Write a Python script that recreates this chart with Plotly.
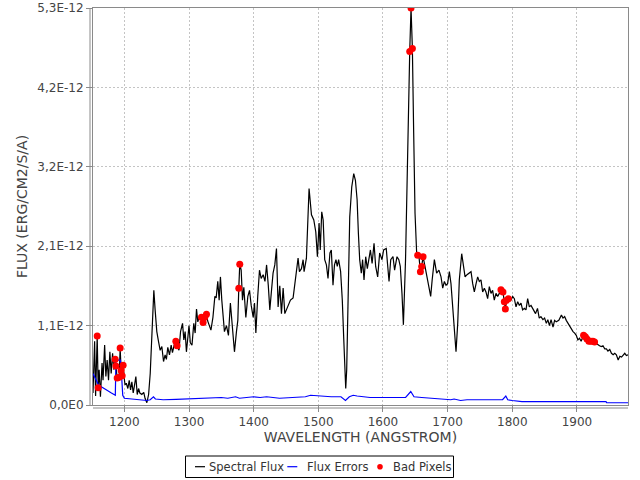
import plotly.graph_objects as go

# Spectral flux (units of 1e-12 erg/cm2/s/A)
flux_wl = [1151.5,1154,1155.5,1158,1159.5,1161,1163,1165.5,1167,1169.5,1171.4,1173.4,1175.5,1177.6,1179.6,1181.8,1183.8,
 1185.8,1186.9,1188.9,1190.5,1192,1193.5,1195,1196.6,1198.1,1199.5,1201,1203,1205.4,1207.5,1209.6,1211.6,1213.7,1215.8,
 1217.8,1219.9,1222,1224,1227,1230,1232,1234.8,1237.5,1240,1242.5,1245.6,1247.6,1250.2,1252.8,1255.4,1258,1260.6,1263,
 1265,1267.2,1269.8,1272.4,1274.4,1277.6,1279.6,1281.6,1284.5,1286.9,1290,1292,1294,1296,1298,1300,1302,1304.6,1307.4,
 1309.5,1311.6,1313.6,1315.7,1319.3,1321.8,1324.4,1327,1329,1331.3,1333.9,1337,1340,1342,1344.5,1346.6,1348.6,1350.7,
 1352.7,1354.8,1357.9,1361,1364,1367.2,1370.3,1373.4,1375.5,1377,1378.5,1380.7,1382.7,1384.8,1387.9,1391,1393.6,1396.2,
 1399.3,1401.3,1403.4,1406.3,1409,1411.6,1414.7,1417.5,1420,1422.6,1425,1427.6,1430,1432.7,1435.3,1437.8,1440.4,1443,
 1445.6,1448.2,1450.7,1453.3,1456.9,1461,1464.6,1468.7,1470.8,1473.9,1476.5,1478,1481.6,1485.7,1489.4,1493,1496.1,
 1498.6,1501.2,1503,1505.3,1507.5,1509.9,1512.5,1515,1518,1520.1,1522.7,1525,1527.3,1529.3,1531.4,1534.5,1537.1,1539.2,
 1540.8,1542.4,1543.9,1546,1548.6,1551.7,1554.8,1557.4,1560,1562,1564,1566.5,1568.5,1570.7,1573.3,1575.8,1578,1580.6,
 1583.2,1586.2,1588.7,1591.8,1594.9,1598.5,1601,1605.1,1607,1609.4,1612,1615.5,1618,1621.7,1624.5,1626.8,1629.4,1631.6,
 1634.9,1638.3,1641.4,1643.4,1645.5,1647.5,1649.6,1652,1653.7,1655.7,1657.9,1659.9,1662,1665,1668,1671.2,1673.8,1676.1,
 1679.5,1683,1686.6,1689.8,1692.4,1695,1697.5,1700,1702.7,1705.2,1707.8,1710.4,1713,1715.6,1718.1,1721.8,1724.9,1727,
 1730,1733.6,1736.2,1738.8,1741.3,1744,1746.5,1749,1751.6,1754.2,1756.8,1759.3,1761.9,1764.5,1767.1,1769.6,1772.2,
 1774.8,1777.4,1780,1782.5,1785.6,1787.7,1789.3,1791.3,1794,1796,1798,1800.6,1803.2,1805.8,1808.4,1811,1813.5,1816,
 1818.7,1821.2,1823.8,1826.4,1829,1831.5,1834,1836,1839,1841.7,1844.3,1847.4,1850,1852.7,1855,1857.5,1860,1863,1865.5,
 1868,1872,1876,1878.5,1881,1883.5,1886,1888.5,1891.3,1894,1896.5,1899,1901.5,1904,1906.5,1910.3,1913,1915.5,1918.5,
 1921.6,1924.7,1927.3,1930,1932.5,1935,1937.7,1940.3,1943,1945.6,1948,1950.8,1953.4,1956,1958.5,1961,1963.8,1966.4,
 1969,1971.6,1974,1976.5,1979]
flux_val = [0.16,0.85,0.12,0.92,0.23,0.47,0.11,0.56,0.33,0.80,0.38,0.60,0.33,0.71,0.42,0.69,0.47,
 0.61,0.52,0.36,0.40,0.37,0.76,0.46,0.39,0.53,0.38,0.27,0.29,0.22,0.33,0.20,0.31,0.16,0.27,
 0.38,0.14,0.22,0.16,0.14,0.17,0.09,0.03,0.14,0.42,1.00,1.53,1.27,0.98,0.85,0.73,0.78,0.58,0.67,
 0.61,0.77,0.67,0.80,0.70,0.82,0.85,0.79,0.73,0.98,1.09,0.87,0.98,0.71,0.91,1.06,0.83,0.80,1.09,
 0.96,1.28,1.11,1.17,1.17,1.10,1.17,1.21,1.12,1.05,1.00,1.17,1.45,1.43,1.65,1.40,1.71,1.40,
 1.13,0.98,1.06,0.93,1.36,0.98,0.71,0.98,1.13,1.56,1.88,1.80,1.40,1.57,1.17,1.45,1.53,1.33,
 1.17,1.36,0.96,1.45,1.80,1.69,1.74,1.65,1.87,1.60,1.27,1.53,1.76,1.87,2.09,1.31,1.59,1.22,
 1.56,1.22,1.27,1.33,1.40,1.43,1.71,1.96,1.78,1.82,1.94,1.78,1.96,2.89,2.54,2.47,2.31,
 1.98,2.43,2.07,2.58,2.47,1.94,1.87,1.69,2.03,2.07,1.60,1.87,1.94,1.85,1.94,1.78,1.40,0.91,
 0.47,0.22,0.47,1.40,2.51,2.91,3.09,3.00,2.74,2.29,1.94,1.76,1.94,1.67,1.98,1.82,1.92,2.07,
 1.89,2.16,1.85,1.71,2.03,1.94,2.07,2.09,1.89,1.65,1.94,1.98,1.80,1.98,1.94,1.85,1.49,1.07,
 1.94,3.63,4.72,5.30,4.76,3.63,2.56,2.05,2.00,1.98,1.78,1.85,1.98,1.85,1.71,1.58,1.45,1.67,
 1.94,1.76,1.80,1.71,1.56,1.65,1.60,1.62,1.78,1.62,1.27,0.96,0.71,1.09,1.67,2.02,1.80,1.71,
 1.74,1.76,1.78,1.62,1.51,1.62,1.71,1.65,1.67,1.51,1.56,1.51,1.42,1.58,1.49,1.53,1.40,
 1.49,1.45,1.49,1.54,1.51,1.38,1.28,1.40,1.42,1.45,1.40,1.45,1.42,1.31,1.38,1.33,1.36,1.27,
 1.29,1.27,1.42,1.31,1.33,1.29,1.25,1.22,1.29,1.16,1.18,1.14,1.16,1.09,1.14,1.06,1.14,1.04,1.13,
 1.11,1.13,1.20,1.16,1.18,1.13,1.09,1.06,1.02,0.98,0.96,0.93,0.87,0.89,0.85,0.93,0.91,0.88,0.85,
 0.85,0.85,0.84,0.82,0.80,0.79,0.78,0.79,0.75,0.75,0.72,0.74,0.69,0.67,0.69,0.67,0.60,0.65,
 0.64,0.67,0.69,0.66,0.67]

# Flux errors (units of 1e-12)
err_wl = [1151.5,1156,1160,1165,1170,1175,1180,1184,1186,1187,1194,1196,1197.5,1200,1210,1220,1230,1235,1240,1245,
 1248,1260,1280,1300,1320,1340,1350,1360,1372,1378,1390,1400,1410,1420,1430,1440,1460,1480,1488,1500,1520,1535,
 1542,1548,1554,1560,1580,1600,1620,1635,1643,1648,1660,1675,1690,1700,1705,1710,1720,1730,1750,1785,1790,1793,
 1800,1815,1900,1945,1946,1979]
err_val = [0.42,0.33,0.27,0.24,0.21,0.19,0.16,0.14,0.13,0.60,0.60,0.35,0.13,0.09,0.08,0.07,0.07,0.06,0.07,0.11,
 0.08,0.07,0.075,0.08,0.09,0.09,0.10,0.09,0.11,0.09,0.10,0.11,0.10,0.11,0.10,0.09,0.10,0.11,0.13,0.12,0.11,0.11,
 0.06,0.11,0.13,0.12,0.10,0.10,0.10,0.10,0.18,0.11,0.10,0.09,0.08,0.08,0.07,0.08,0.06,0.07,0.07,0.07,0.12,0.07,
 0.06,0.045,0.045,0.045,0.03,0.03]

# Bad pixels
bad_wl = [1158,1159.5,1185.8,1186.9,1188.9,1192,1193.5,1195,1196.6,1198.1,1279.6,1281.6,1319.3,1321.8,1324.4,1327,
 1377,1378.5,1641.4,1643.4,1645.5,1653.7,1657.9,1659.9,1662,1782.5,1785.6,1787.7,1789.3,1791.3,1794,
 1910.3,1913,1915.5,1918.5,1921.6,1924.7,1927.3]
bad_val = [0.92,0.23,0.61,0.52,0.36,0.37,0.76,0.46,0.39,0.53,0.85,0.79,1.17,1.10,1.17,1.21,
 1.56,1.88,4.72,5.30,4.76,2.00,1.78,1.85,1.98,1.54,1.51,1.38,1.28,1.40,1.42,
 0.93,0.91,0.88,0.85,0.85,0.85,0.84]

x_ticks = [1200, 1300, 1400, 1500, 1600, 1700, 1800, 1900]
y_tickvals = [0, 1.06, 2.12, 3.18, 4.24, 5.3]
y_ticktext = ["0,0E0", "1,1E-12", "2,1E-12", "3,2E-12", "4,2E-12", "5,3E-12"]
series_names = ["Spectral Flux", "Flux Errors", "Bad Pixels"]
series_colors = ["#000000", "#0000ff", "#ff0000"]

S = 1e-12
FONT = "DejaVu Sans"
TXT = "#444444"
AX = "#8a8a8a"

fig = go.Figure()
fig.add_trace(go.Scatter(x=flux_wl, y=[v * S for v in flux_val], mode="lines", name=series_names[0],
                         line=dict(color=series_colors[0], width=1.2), showlegend=False))
fig.add_trace(go.Scatter(x=err_wl, y=[v * S for v in err_val], mode="lines", name=series_names[1],
                         line=dict(color=series_colors[1], width=1.2), showlegend=False))
fig.add_trace(go.Scatter(x=bad_wl, y=[v * S for v in bad_val], mode="markers", name=series_names[2],
                         marker=dict(color=series_colors[2], size=7), showlegend=False))

axis_common = dict(
    showgrid=True, gridcolor="#c4c4c4", griddash="2px,2px", gridwidth=1,
    showline=True, mirror=True, linecolor=AX, linewidth=1,
    ticks="outside", ticklen=6, tickcolor=AX,
    tickfont=dict(family=FONT, size=12, color=TXT),
    zeroline=False, automargin=False,
)

# Plot area in pixels: left 93, right 628, top 8, bottom 405
PL, PR, PT, PB = 93, 628, 8, 405
def px2x(px):
    return (px - PL) / (PR - PL)
def py2y(py):
    return (PB - py) / (PB - PT)

shapes = [
    # offset axis lines (JFreeChart style)
    dict(type="line", xref="paper", yref="paper", xsizemode="pixel", xanchor=0, x0=-3, x1=-3, y0=0, y1=1,
         line=dict(color=AX, width=1)),
    dict(type="line", xref="paper", yref="paper", ysizemode="pixel", yanchor=0, y0=-3, y1=-3, x0=0, x1=1,
         line=dict(color=AX, width=1)),
]
annotations = []

# Legend box (drawn manually to match the reference layout)
LX0, LX1, LY0, LY1 = 185.5, 453.5, 456, 477.5
LYC = 466.7
shapes.append(dict(type="rect", xref="paper", yref="paper", x0=px2x(LX0), x1=px2x(LX1), y0=py2y(LY1), y1=py2y(LY0),
                   line=dict(color="black", width=1), fillcolor="white"))
legend_sym_x = [195, 287.3, 380]
legend_txt_x = [207, 305, 390.5]
for i, name in enumerate(series_names):
    if i < 2:
        shapes.append(dict(type="line", xref="paper", yref="paper", x0=px2x(legend_sym_x[i]), x1=px2x(legend_sym_x[i] + 10),
                           y0=py2y(LYC), y1=py2y(LYC), line=dict(color=series_colors[i], width=1.2)))
    else:
        shapes.append(dict(type="circle", xref="paper", yref="paper", xsizemode="pixel", ysizemode="pixel",
                           xanchor=px2x(legend_sym_x[i]), yanchor=py2y(LYC), x0=-2.8, x1=2.8, y0=-2.8, y1=2.8,
                           line=dict(width=0), fillcolor=series_colors[i]))
    annotations.append(dict(text=name, xref="paper", yref="paper", x=px2x(legend_txt_x[i]), y=py2y(LYC),
                            xanchor="left", yanchor="middle", showarrow=False,
                            font=dict(family=FONT, size=11.5, color="#333333")))

fig.update_layout(
    width=640, height=480,
    margin=dict(l=PL, r=640 - PR, t=PT, b=480 - PB, autoexpand=False),
    paper_bgcolor="white", plot_bgcolor="white",
    font=dict(family=FONT, color=TXT),
    xaxis=dict(range=[1151.5, 1979], tickvals=x_ticks,
               title=dict(text="WAVELENGTH (ANGSTROM)", font=dict(family=FONT, size=14, color=TXT), standoff=2),
               **axis_common),
    yaxis=dict(range=[0, 5.3e-12], tickvals=[v * S for v in y_tickvals], ticktext=y_ticktext,
               title=dict(text="FLUX (ERG/CM2/S/A)", font=dict(family=FONT, size=14, color=TXT), standoff=6),
               **axis_common),
    showlegend=False,
    shapes=shapes,
    annotations=annotations,
)

fig.write_html("out.html")
